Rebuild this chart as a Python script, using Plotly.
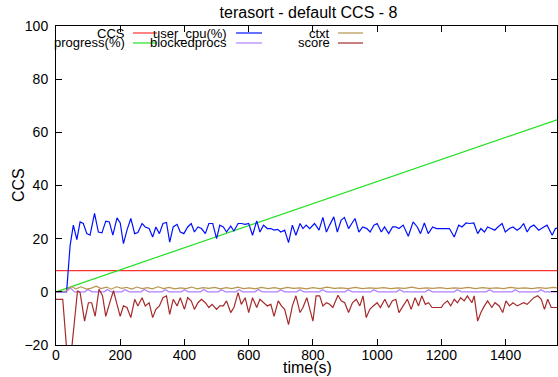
import plotly.graph_objects as go

# ---------------- data ----------------
ccs_t = [0, 1560]
ccs_y = [8, 8]

progress_t = [0, 1560]
progress_y = [0, 64.7]

cpu_t = [0, 33, 44, 54, 65, 75, 85, 96, 106, 120, 132, 143, 155, 166, 177, 190, 200, 210, 221, 233,
         245, 255, 268, 278, 290, 301, 311, 322, 333, 344, 354, 365, 377, 387, 398, 410, 421, 431, 442, 453,
         465, 476, 488, 500, 510, 521, 531, 544, 554, 567, 577, 589, 600, 612, 625, 635, 646, 658, 669, 679,
         690, 700, 712, 724, 736, 747, 760, 769, 779, 790, 805, 819, 831, 842, 852, 865, 876, 888, 898, 911,
         921, 931, 943, 955, 968, 978, 990, 1000, 1013, 1023, 1036, 1048, 1058, 1068, 1081, 1097, 1112, 1125, 1135, 1147,
         1159, 1173, 1185, 1199, 1225, 1240, 1254, 1264, 1277, 1288, 1301, 1313, 1323, 1334, 1344, 1355, 1366, 1376, 1389, 1399,
         1412, 1423, 1436, 1446, 1456, 1467, 1477, 1488, 1503, 1519, 1529, 1545, 1555, 1560]
cpu_y = [0, 0, 17.5, 25.1, 19.6, 26.3, 25.7, 21.9, 21.3, 29.5, 22.5, 22.2, 26.6, 26.3, 21.3, 27.8, 25.9, 18.1, 23.2, 27.6,
         21.9, 22.3, 25.7, 24.4, 23.8, 20.6, 24.4, 21.9, 25.7, 26.1, 18.7, 24.4, 25.4, 22.5, 21.9, 24.4, 25.7, 22.5, 24.4, 23.8,
         21.9, 25.7, 25.7, 20.0, 25.1, 24.4, 22.5, 24.7, 22.9, 25.7, 25.7, 25.4, 25.7, 21.3, 26.7, 22.5, 25.1, 23.8, 23.8, 23.2,
         23.5, 22.5, 23.2, 18.5, 25.1, 21.3, 25.7, 23.8, 25.1, 23.8, 25.7, 23.2, 28.0, 22.5, 25.1, 28.2, 22.5, 27.0, 28.0, 23.8,
         25.7, 27.6, 22.5, 24.4, 23.8, 22.5, 25.1, 25.7, 22.5, 24.4, 21.9, 24.4, 24.4, 23.8, 25.1, 20.9, 26.3, 24.4, 21.9, 25.9,
         21.9, 24.4, 23.8, 23.8, 23.8, 20.6, 25.1, 24.4, 25.9, 25.7, 25.9, 21.9, 23.8, 22.5, 24.4, 23.8, 23.2, 24.4, 25.7, 22.5,
         23.8, 24.4, 23.2, 24.1, 25.7, 22.5, 24.4, 25.1, 23.2, 24.4, 25.1, 21.3, 23.8, 24.0]

blocked_t = [0, 30, 45, 58, 90, 100, 112, 150, 160, 172, 205, 215, 228, 265, 275, 288, 330, 340, 352,
             390, 400, 412, 450, 460, 472, 505, 515, 528, 560, 570, 582, 620, 630, 642, 690, 700, 712,
             750, 760, 772, 820, 830, 842, 900, 910, 922, 980, 990, 1002, 1060, 1070, 1082, 1150, 1160, 1172,
             1240, 1250, 1262, 1340, 1350, 1362, 1420, 1430, 1442, 1500, 1510, 1522, 1560]
blocked_y = [0, 0, 1.4, 0, 0, 0.9, 0, 0, 0.9, 0, 0, 0.8, 0, 0, 0.9, 0, 0, 0.8, 0,
             0, 0.8, 0, 0, 0.9, 0, 0, 0.8, 0, 0, 0.8, 0, 0, 0.9, 0, 0, 0.8, 0,
             0, 0.8, 0, 0, 0.8, 0, 0, 0.8, 0, 0, 0.8, 0, 0, 0.8, 0, 0, 0.8, 0,
             0, 0.8, 0, 0, 0.8, 0, 0, 0.8, 0, 0, 0.8, 0, 0]

ctxt_t = [0, 30, 48, 62, 78, 95, 110, 125, 140, 158, 172, 188, 205, 220, 236, 252, 268, 285, 300, 318,
          335, 352, 370, 388, 405, 422, 440, 458, 476, 494, 512, 530, 548, 566, 584, 602, 620, 640, 660, 680,
          700, 720, 740, 760, 780, 800, 822, 844, 866, 888, 910, 932, 954, 976, 998, 1020, 1042, 1064, 1086, 1108,
          1130, 1152, 1174, 1196, 1218, 1240, 1262, 1284, 1306, 1328, 1350, 1372, 1394, 1416, 1438, 1460, 1482, 1504, 1526, 1548, 1560]
ctxt_y = [0, 0.3, 2.0, 1.1, 1.9, 1.0, 1.4, 2.1, 1.2, 1.8, 1.0, 1.9, 1.3, 1.7, 1.0, 1.8, 1.2, 1.6, 1.1, 1.9,
          1.2, 1.7, 1.1, 1.5, 1.2, 1.8, 1.1, 1.6, 1.3, 1.7, 1.1, 1.6, 1.2, 1.8, 1.2, 1.5, 1.1, 1.7, 1.2, 1.6,
          1.1, 1.7, 1.3, 1.5, 1.1, 1.6, 1.2, 1.8, 1.3, 1.5, 1.2, 1.7, 1.2, 1.5, 1.3, 1.6, 1.2, 1.5, 1.3, 1.8,
          1.2, 1.5, 1.3, 1.6, 1.2, 1.5, 1.3, 1.7, 1.2, 1.6, 1.3, 1.5, 1.2, 1.7, 1.3, 1.5, 1.2, 1.6, 1.3, 1.7, 1.5]

score_t = [0, 21, 40, 67, 75, 89, 101, 111, 122, 134, 145, 155, 169, 179, 190, 200, 210, 221, 233, 245,
           255, 268, 278, 290, 301, 311, 322, 333, 344, 354, 365, 377, 387, 400, 410, 421, 431, 442, 453, 465,
           476, 486, 500, 510, 521, 531, 544, 554, 567, 577, 589, 600, 612, 625, 635, 646, 658, 669, 679, 692,
           702, 712, 724, 736, 747, 760, 769, 781, 791, 800, 810, 821, 831, 842, 852, 862, 878, 888, 899, 911,
           923, 935, 946, 956, 966, 977, 988, 1000, 1010, 1024, 1036, 1047, 1058, 1068, 1081, 1094, 1106, 1118, 1129, 1139,
           1150, 1160, 1171, 1200, 1206, 1219, 1229, 1240, 1250, 1260, 1271, 1281, 1295, 1302, 1313, 1323, 1334, 1344, 1357, 1367,
           1380, 1391, 1401, 1412, 1423, 1436, 1446, 1456, 1467, 1477, 1488, 1500, 1511, 1521, 1531, 1542, 1560]
score_y = [-2.8, -2.8, -32, 0.4, -0.3, -11.0, -4.1, -4.1, -9.2, 1.0, -1.5, -9.2, -3.4, 0.4, -4.7, -9.2, -5.3, -5.9, -9.7, -2.8,
           -5.3, -2.2, -5.3, -4.1, -9.7, -6.6, -5.3, -2.2, -1.5, -8.5, -2.8, -5.3, -2.2, -6.6, -2.2, -3.4, -6.6, -4.1, -2.8, -4.1,
           -5.9, -4.7, -6.6, -5.3, -5.3, -3.4, -7.8, -5.9, -0.3, -4.7, -2.2, -7.8, -2.2, -5.9, -2.8, -4.1, -5.3, -4.7, -9.2, -3.4,
           -5.3, -6.6, -12.3, -5.3, -1.5, -7.8, -5.9, -2.2, -6.6, -11.0, -1.5, -1.5, -5.3, -4.1, -4.7, -5.9, -1.3, -3.4, -4.1, -7.8,
           -4.1, -2.8, -5.3, -1.5, -9.7, -6.6, -5.3, -4.1, -5.9, -2.8, -5.9, -3.4, -2.8, -7.8, -5.3, -2.8, -6.6, -2.2, -5.3, -1.5,
           -4.7, -4.1, -5.9, -5.9, -4.7, -3.4, -5.3, -2.8, -4.1, -2.2, -3.4, -1.5, -4.1, -1.5, -11.0, -7.8, -5.3, -3.4, -5.9, -4.1,
           -5.3, -7.8, -3.4, -5.3, -4.1, -5.3, -4.7, -4.1, -4.7, -3.4, -2.2, -1.5, -2.8, -6.6, -2.8, -5.9, -5.9]

series = [
    ("CCS", ccs_t, ccs_y, "#ff3030"),
    ("progress(%)", progress_t, progress_y, "#20e020"),
    ("user_cpu(%)", cpu_t, cpu_y, "#0010ff"),
    ("blockedprocs", blocked_t, blocked_y, "#b080ff"),
    ("ctxt", ctxt_t, ctxt_y, "#b8944e"),
    ("score", score_t, score_y, "#a52a2a"),
]

FONT = "Liberation Sans, Arial, sans-serif"
W, H = 558, 377
L, R = 56, 557
T, B = 26, 345

fig = go.Figure()
for name, t, y, c in series:
    fig.add_trace(go.Scatter(x=t, y=y, mode="lines", name=name,
                             line=dict(color=c, width=1.2), showlegend=False))

def px(xp):
    return (xp - L) / (R - L)
def py(yp):
    return (B - yp) / (B - T)

# gnuplot-style key: text right-aligned, sample line to its right
key_cols = [(127, 133, 157), (229, 236, 262), (332, 338, 363)]
key_rows = [33, 43]
for i, (name, t, y, c) in enumerate(series):
    col, row = divmod(i, 2)
    tx, l0, l1 = key_cols[col]
    yy = key_rows[row]
    fig.add_annotation(x=px(tx), y=py(yy), xref="paper", yref="paper", text=name,
                       showarrow=False, xanchor="right", yanchor="middle",
                       font=dict(family=FONT, size=13, color="black"))
    fig.add_shape(type="line", xref="paper", yref="paper", x0=px(l0), x1=px(l1),
                  y0=py(yy), y1=py(yy), line=dict(color=c, width=1.2))

# axis titles
fig.add_annotation(x=px(307), y=py(367), xref="paper", yref="paper", text="time(s)",
                   showarrow=False, xanchor="center", yanchor="middle",
                   font=dict(family=FONT, size=16, color="black"))
fig.add_annotation(x=px(18), y=py(185), xref="paper", yref="paper", text="CCS", textangle=-90,
                   showarrow=False, xanchor="center", yanchor="middle",
                   font=dict(family=FONT, size=16, color="black"))

axis_common = dict(showline=True, linecolor="black", linewidth=1, mirror="ticks",
                   ticks="inside", ticklen=6, tickcolor="black", showgrid=False, zeroline=False,
                   automargin=False,
                   tickfont=dict(family=FONT, size=14, color="black"))

fig.update_layout(
    width=W, height=H,
    margin=dict(l=L, r=W - R, t=T, b=H - B, autoexpand=False),
    paper_bgcolor="white", plot_bgcolor="white",
    title=dict(text="terasort - default CCS - 8", x=(308.5) / W, xref="container", xanchor="center",
               y=1 - 12 / H, yref="container", yanchor="middle", automargin=False,
               font=dict(family=FONT, size=16, color="black")),
    xaxis=dict(range=[0, 1560], dtick=200, tick0=0, ticklabelstandoff=-3, **axis_common),
    yaxis=dict(range=[-20, 100], dtick=20, tick0=0, ticklabelstandoff=4, **axis_common),
)

fig.write_html("out.html", config={"displayModeBar": False},
               post_script="document.body.style.margin='0';document.body.style.overflow='hidden';")
